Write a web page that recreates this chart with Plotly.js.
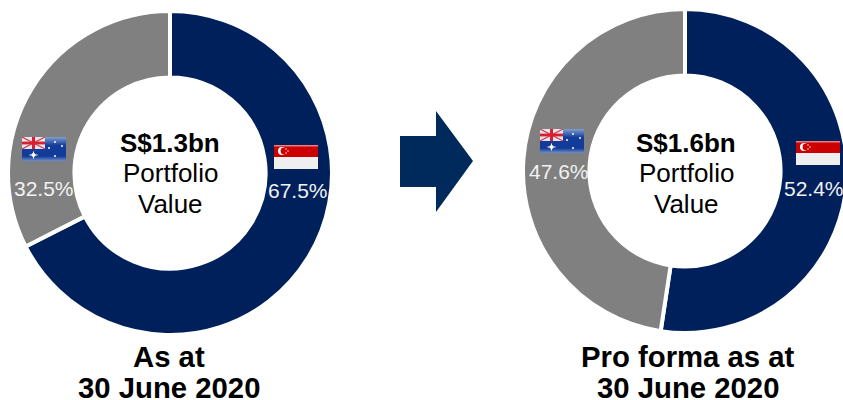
<!DOCTYPE html>
<html><head><meta charset="utf-8">
<script src="https://cdn.plot.ly/plotly-3.0.1.min.js"></script>
<style>html,body{margin:0;padding:0;background:#fff;overflow:hidden;width:843px;height:400px}</style></head>
<body><div id="chart" style="width:850px;height:400px"></div>
<script>
const W = 850, H = 400;
const countries = ['Singapore', 'Australia'];
const currentValues = [67.5, 32.5];
const proFormaValues = [52.4, 47.6];
const sliceColors = ['#00205B', '#808080'];
const currentCentre = ['S$1.3bn', 'Portfolio', 'Value'];
const proFormaCentre = ['S$1.6bn', 'Portfolio', 'Value'];
const currentCaption = ['As at', '30 June 2020'];
const proFormaCaption = ['Pro forma as at', '30 June 2020'];

const FONT = '"Liberation Sans", Arial, sans-serif';
const px = x => x / W, py = y => 1 - y / H;

const sgFlag = 'data:image/svg+xml;utf8,' + encodeURIComponent(
 `<svg xmlns="http://www.w3.org/2000/svg" width="44" height="24" viewBox="0 0 44 24">
 <defs><linearGradient id="r" x1="0" y1="0" x2="0" y2="1"><stop offset="0" stop-color="#f0a0a0"/><stop offset=".4" stop-color="#cc0000"/></linearGradient></defs>
 <rect width="44" height="12" fill="#cc0000"/><path d="M0 0H44V6C34 1 26 2 20 5C12 7 6 6 0 5Z" fill="url(#r)"/><rect y="12" width="44" height="12" fill="#efefef"/>
 <circle cx="8" cy="6" r="4" fill="#fff"/><circle cx="10" cy="6" r="3.4" fill="#cc0000"/>
 <circle cx="12" cy="4" r=".7" fill="#fff"/><circle cx="14" cy="6" r=".7" fill="#fff"/><circle cx="12" cy="8" r=".7" fill="#fff"/></svg>`);
const auFlag = 'data:image/svg+xml;utf8,' + encodeURIComponent(
 `<svg xmlns="http://www.w3.org/2000/svg" width="44" height="24" viewBox="0 0 44 24">
 <defs><linearGradient id="b" x1="0" y1="0" x2="0" y2="1"><stop offset="0" stop-color="#7f9fd0"/><stop offset=".35" stop-color="#143c9a"/><stop offset=".8" stop-color="#123a98"/><stop offset="1" stop-color="#6f8fc8"/></linearGradient></defs>
 <rect width="44" height="24" fill="url(#b)"/>
 <rect width="23" height="12" fill="#e8e4ec"/>
 <path d="M0 0L23 12M23 0L0 12" stroke="#cf3c50" stroke-width="1.2"/>
 <rect x="10" width="3" height="12" fill="#d81e30"/><rect y="4.6" width="23" height="2.8" fill="#d81e30"/>
 <circle cx="11.5" cy="18" r="2" fill="#fff"/><rect x="7.5" y="17.5" width="8" height="1" fill="#fff"/><rect x="11" y="14.5" width="1" height="7" fill="#fff"/>
 <circle cx="27" cy="11" r="1" fill="#fff"/><circle cx="33" cy="5" r="1" fill="#fff"/><circle cx="40" cy="9" r="1" fill="#fff"/><circle cx="33" cy="19" r="1" fill="#fff"/></svg>`);

function pie(values, x0, x1, y0, y1) {
  return {type: 'pie', labels: countries, values, hole: 0.59, sort: false, direction: 'clockwise', rotation: 0,
    textinfo: 'none', hoverinfo: 'label+percent', showlegend: false,
    marker: {colors: sliceColors, line: {color: '#fff', width: 4}},
    domain: {x: [px(x0), px(x1)], y: [py(y1), py(y0)]}};
}
function note(text, x, y, size, color, bold) {
  return {text: bold ? '<b>' + text + '</b>' : text, x: px(x), y: py(y), xref: 'paper', yref: 'paper',
    xanchor: 'center', yanchor: 'middle', showarrow: false,
    font: {family: FONT, size, color}};
}
const annotations = [
  note(currentValues[1].toFixed(1) + '%', 44, 188, 21, '#f2f2f2'),
  note(currentValues[0].toFixed(1) + '%', 297.5, 190, 21, '#f2f2f2'),
  note(proFormaValues[1].toFixed(1) + '%', 558.5, 172, 21, '#f2f2f2'),
  note(proFormaValues[0].toFixed(1) + '%', 814, 188, 21, '#f2f2f2'),
  note(currentCentre[0], 170, 143, 26, '#000', true),
  note(currentCentre[1], 170, 173, 26, '#000'),
  note(currentCentre[2], 170, 204, 26, '#000'),
  note(proFormaCentre[0], 686, 143, 26, '#000', true),
  note(proFormaCentre[1], 686, 173, 26, '#000'),
  note(proFormaCentre[2], 686, 204, 26, '#000'),
  note(currentCaption[0], 169, 356, 29.3, '#000', true),
  note(currentCaption[1], 169, 387.5, 29.3, '#000', true),
  note(proFormaCaption[0], 688, 356, 29.3, '#000', true),
  note(proFormaCaption[1], 688, 387.5, 29.3, '#000', true)
];
const flag = (source, x, y) => ({source, xref: 'paper', yref: 'paper', x: px(x), y: py(y),
  sizex: 44 / W, sizey: 24 / H, xanchor: 'left', yanchor: 'top', sizing: 'stretch', layer: 'above'});
const arrowPts = [[400,136],[436,136],[436,111],[473,161],[436,212],[436,187],[400,187]];
const arrow = 'M' + arrowPts.map(p => px(p[0]).toFixed(5) + ',' + py(p[1]).toFixed(5)).join('L') + 'Z';

Plotly.newPlot('chart', [pie(currentValues, 8, 332, 11, 335), pie(proFormaValues, 523, 847, 9, 333)], {
  width: W, height: H, margin: {l: 0, r: 0, t: 0, b: 0}, paper_bgcolor: '#fff',
  font: {family: FONT}, annotations,
  images: [flag(sgFlag, 274, 145), flag(auFlag, 22, 137), flag(auFlag, 540, 129), flag(sgFlag, 796, 141)],
  shapes: [{type: 'path', xref: 'paper', yref: 'paper', path: arrow, fillcolor: '#002A5C', line: {width: 0}}]
}, {displayModeBar: false});
</script></body></html>
